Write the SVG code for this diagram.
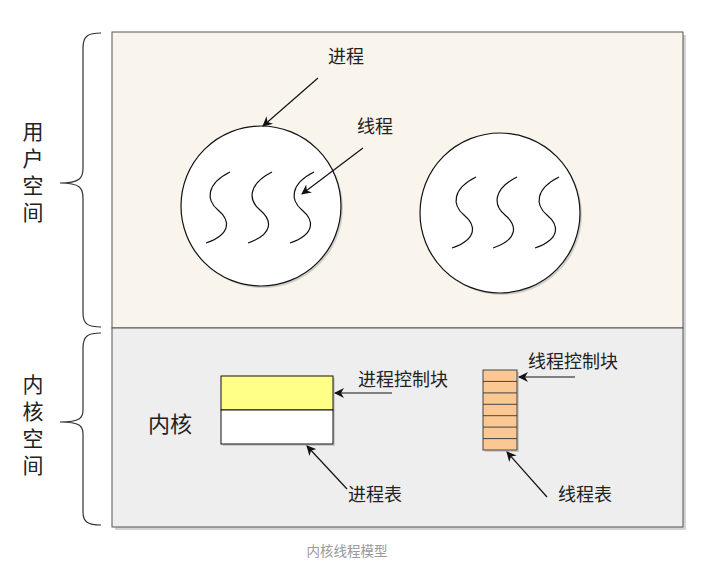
<svg xmlns="http://www.w3.org/2000/svg" width="706" height="570" viewBox="0 0 706 570">
<style>
text{font-family:"Noto Sans CJK SC","Noto Sans",sans-serif;fill:#222}
.lbl{font-size:18px}
.vert{font-size:21px;writing-mode:vertical-rl;letter-spacing:6px}
.frame{stroke:#555;stroke-width:1}
.shadow{fill:#b5b5b5;opacity:0.6}
.sq{fill:none;stroke:#111;stroke-width:1.2}
.conn{fill:none;stroke:#111;stroke-width:1.2;marker-end:url(#ah)}
.brace{fill:none;stroke:#333;stroke-width:1.2}
</style>
<defs>
<marker id="ah" viewBox="0 0 10 10" refX="9" refY="5" markerWidth="10" markerHeight="10" markerUnits="userSpaceOnUse" orient="auto">
<path d="M0,0 L10,5 L0,10 L3,5 Z" fill="#111"/>
</marker>
<path id="squig" d="M24,0 C0,12 0,28 12,38 C24,48 26,62 0,71"/>
</defs>
<rect width="706" height="570" fill="#ffffff"/>
<g id="user-space">
<rect x="115" y="35" width="571" height="296" class="shadow"/>
<rect x="112" y="32" width="571" height="296" fill="#faf5ec" class="frame"/>
</g>
<g id="kernel-space">
<rect x="115" y="331" width="571" height="199" class="shadow"/>
<rect x="112" y="328" width="571" height="199" fill="#efeeee" class="frame"/>
</g>
<g id="brace-user">
<path class="brace" d="M101,33 C88,33 83,36 83,48 L83,168 C83,178 80,183 60,183 M60,183 C80,183 83,188 83,198 L83,313 C83,324 88,327 101,327"/>
<text class="vert" x="33" y="121">用户空间</text>
</g>
<g id="brace-kernel">
<path class="brace" d="M101,333 C88,333 83,336 83,348 L83,410 C83,418 80,422 60,422 M60,422 C80,422 83,426 83,434 L83,512 C83,522 88,525 101,525"/>
<text class="vert" x="33" y="374">内核空间</text>
</g>
<g id="process-1">
<circle cx="263" cy="208" r="80" fill="#b5b5b5" opacity="0.6"/>
<circle cx="261" cy="206" r="80" fill="#ffffff" stroke="#111" stroke-width="1.2"/>
<use href="#squig" class="sq" x="206" y="172"/>
<use href="#squig" class="sq" x="248" y="172"/>
<use href="#squig" class="sq" x="290" y="172"/>
</g>
<g id="process-2">
<circle cx="502" cy="215" r="80" fill="#b5b5b5" opacity="0.6"/>
<circle cx="500" cy="213" r="80" fill="#ffffff" stroke="#111" stroke-width="1.2"/>
<use href="#squig" class="sq" x="452" y="177"/>
<use href="#squig" class="sq" x="493" y="177"/>
<use href="#squig" class="sq" x="535" y="177"/>
</g>
<g id="label-process">
<text class="lbl" x="346" y="63" text-anchor="middle">进程</text>
</g>
<g id="label-thread">
<text class="lbl" x="375" y="133" text-anchor="middle">线程</text>
</g>
<g id="kernel-label">
<text x="170" y="432" text-anchor="middle" style="font-size:22px">内核</text>
</g>
<g id="process-table">
<rect x="223" y="378" width="112" height="68" class="shadow"/>
<rect x="221" y="376" width="112" height="34" fill="#ffff88" stroke="#111" stroke-width="1"/>
<rect x="221" y="410" width="112" height="34" fill="#ffffff" stroke="#111" stroke-width="1"/>
</g>
<g id="thread-table">
<rect x="485" y="372" width="34" height="80" class="shadow"/>
<rect x="483" y="370" width="34" height="80" fill="#fbc793" stroke="#444" stroke-width="1"/>
<path d="M483,381.4 H517 M483,392.9 H517 M483,404.3 H517 M483,415.7 H517 M483,427.1 H517 M483,438.6 H517" stroke="#444" stroke-width="1"/>
</g>
<g id="label-pcb"><text class="lbl" x="403" y="386" text-anchor="middle">进程控制块</text></g>
<g id="label-ptable"><text class="lbl" x="375" y="501" text-anchor="middle">进程表</text></g>
<g id="label-tcb"><text class="lbl" x="573" y="368" text-anchor="middle">线程控制块</text></g>
<g id="label-ttable"><text class="lbl" x="585" y="501" text-anchor="middle">线程表</text></g>
<g id="connectors">
<path class="conn" d="M318,78 L263,126"/>
<path class="conn" d="M363,148 L302,194"/>
<path class="conn" d="M392,393 L335,393"/>
<path class="conn" d="M347,489 L307,446"/>
<path class="conn" d="M575,377 L519,377"/>
<path class="conn" d="M547,497 L507,452"/>
</g>
<g id="caption">
<text x="347" y="556" text-anchor="middle" style="font-size:13.5px;fill:#999">内核线程模型</text>
</g>
</svg>
